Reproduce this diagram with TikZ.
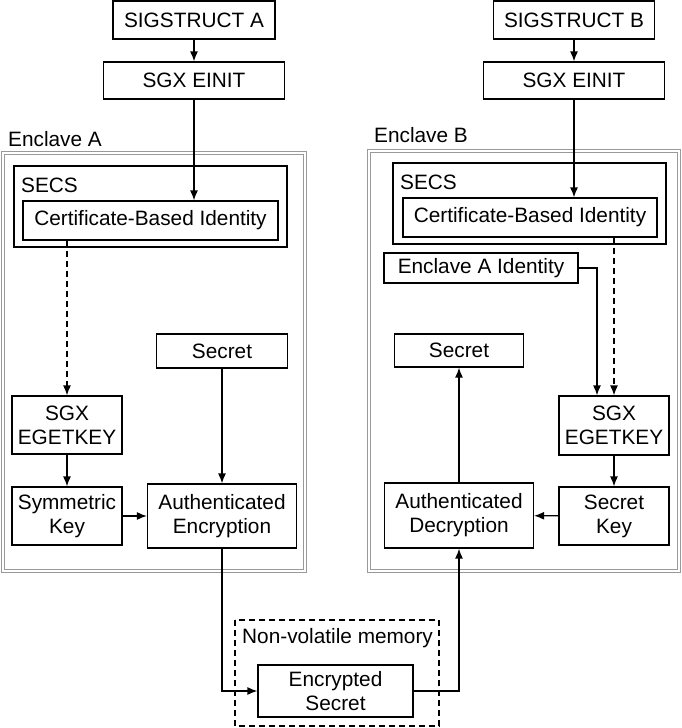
\documentclass[tikz,border=0pt]{standalone}
\usepackage{fontspec}
\setmainfont{Liberation Sans}
\usetikzlibrary{arrows.meta}

\tikzset{
	blk/.style={draw, line width=1.2pt, align=center, inner sep=0pt},
	lbl/.style={anchor=west, inner sep=0pt},
	enclave/.style={draw=gray!80, double, double distance=1.8pt, line width=0.7pt},
	arr/.style={line width=1.3pt, -{Latex[length=10pt,width=8pt]}},
	dsh/.style={dash pattern=on 6pt off 4pt},
}

\begin{document}
\begin{tikzpicture}[x=1pt, y=-1pt, font=\fontsize{20.8}{24}\selectfont]
			\useasboundingbox (0,0) rectangle (682,728);
			% outer containers
			\draw[enclave] (3,153) rectangle (305,571);
			\draw[enclave] (369,151) rectangle (679,571);
			\node[lbl] (encAlbl) at (8,139) {Enclave A};
			\node[lbl] (encBlbl) at (374,135) {Enclave B};
			\draw[line width=1.2pt] (14,166) rectangle (287,247);
			\draw[line width=1.2pt] (393,163) rectangle (666,244);
			\node[lbl] (secsA) at (21,185) {SECS};
			\node[lbl] (secsB) at (400,182) {SECS};
			\draw[line width=1.2pt, dsh] (235,620) rectangle (439,726);
			\node[lbl] (nvm) at (242,638) {Non-volatile memory};
			% boxes
			\node[blk, minimum width=162pt, minimum height=38pt] (sigA) at (194,20) {SIGSTRUCT A};
			\node[blk, minimum width=181pt, minimum height=37pt] (einitA) at (194,80.5) {SGX EINIT};
			\node[blk, minimum width=161pt, minimum height=38pt] (sigB) at (574,20) {SIGSTRUCT B};
			\node[blk, minimum width=181pt, minimum height=37pt] (einitB) at (574,80.5) {SGX EINIT};
			\node[blk, minimum width=255pt, minimum height=39pt] (certA) at (150.5,220.5) {Certificate-Based Identity};
			\node[blk, minimum width=254pt, minimum height=39pt] (certB) at (530,217.5) {Certificate-Based Identity};
			\node[blk, minimum width=194pt, minimum height=30pt] (idA) at (481,268) {Enclave A Identity};
			\node[blk, minimum width=131pt, minimum height=34pt] (secretA) at (222,351) {Secret};
			\node[blk, minimum width=129pt, minimum height=33pt] (secretB) at (459,350.5) {Secret};
			\node[blk, minimum width=110pt, minimum height=58pt] (egetA) at (67,425) {SGX\\EGETKEY};
			\node[blk, minimum width=110pt, minimum height=59pt] (egetB) at (614,425.5) {SGX\\EGETKEY};
			\node[blk, minimum width=110pt, minimum height=58pt] (symA) at (67,516) {Symmetric\\Key};
			\node[blk, minimum width=149pt, minimum height=64pt] (encA) at (222,516) {Authenticated\\Encryption};
			\node[blk, minimum width=149pt, minimum height=65pt] (decB) at (459,515.5) {Authenticated\\Decryption};
			\node[blk, minimum width=110pt, minimum height=58pt] (keyB) at (614,516) {Secret\\Key};
			\node[blk, minimum width=155pt, minimum height=52pt] (encsec) at (335.5,691) {Encrypted\\Secret};
			% connectors
			\draw[arr] (sigA) -- (einitA);
			\draw[arr] (sigB) -- (einitB);
			\draw[arr] (einitA.south) -- (einitA.south |- certA.north);
			\draw[arr] (einitB.south) -- (einitB.south |- certB.north);
			\draw[arr, dsh] (egetA.north |- certA.south) -- (egetA.north);
			\draw[arr, dsh] (egetB.north |- certB.south) -- (egetB.north);
			\draw[arr] (idA.east) -| ([xshift=-17pt]egetB.north);
			\draw[arr] (egetA) -- (symA);
			\draw[arr] (symA) -- (encA);
			\draw[arr] (secretA) -- (encA);
			\draw[arr] (encA.south) |- (encsec.west);
			\draw[arr] (encsec.east) -| (decB.south);
			\draw[arr] (decB) -- (secretB);
			\draw[arr] (egetB) -- (keyB);
			\draw[arr] (keyB) -- (decB);
		\end{tikzpicture}
\end{document}
